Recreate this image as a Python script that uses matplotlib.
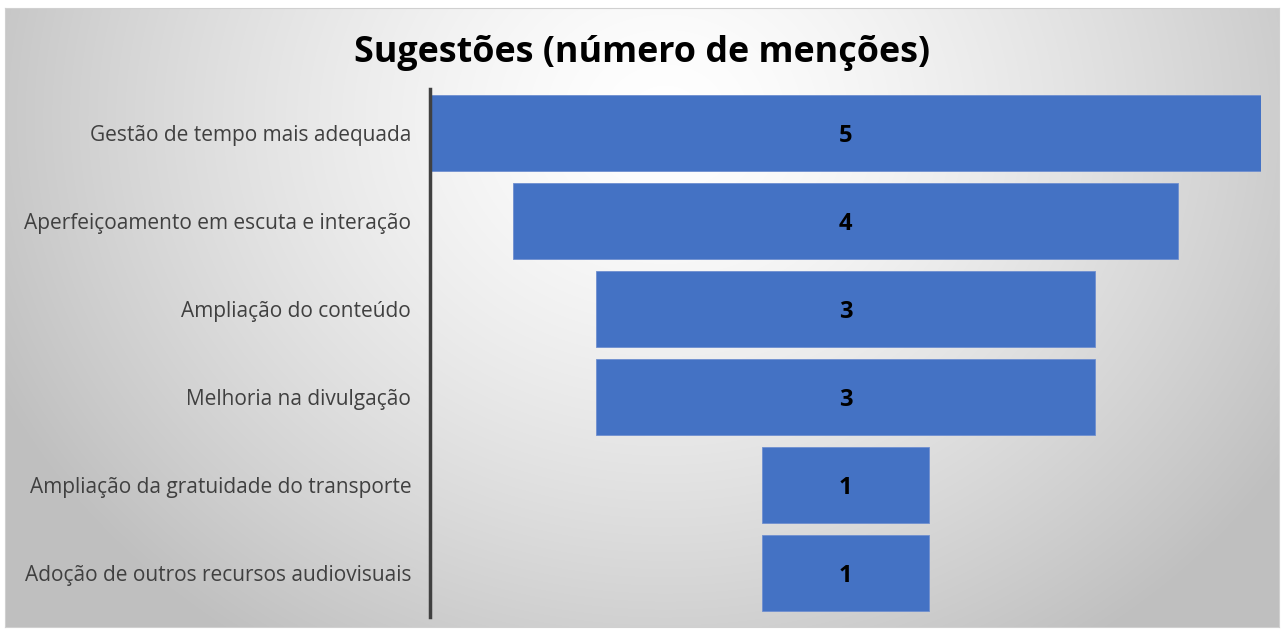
import numpy as np
import matplotlib.pyplot as plt

# Funnel data (top to bottom)
categories = [
    "Gestão de tempo mais adequada",
    "Aperfeiçoamento em escuta e interação",
    "Ampliação do conteúdo",
    "Melhoria na divulgação",
    "Ampliação da gratuidade do transporte",
    "Adoção de outros recursos audiovisuais",
]
mentions = [5, 4, 3, 3, 1, 1]
title = "Sugestões (número de menções)"

plt.rcParams['font.family'] = ['Open Sans', 'DejaVu Sans']

W, H = 1285, 630
fig = plt.figure(figsize=(W / 100, H / 100), dpi=100)
fig.patch.set_facecolor('white')

# gradient background panel
bg = fig.add_axes([5 / W, 1 - 627 / H, 1274 / W, 619 / H])
yy, xx = np.mgrid[0:619, 0:1274]
r = np.sqrt(((xx - 660) / 740.0) ** 2 + ((yy - 110) / 640.0) ** 2)
r = np.clip(r, 0, 1)
shade = 1.0 - 0.25 * r ** 1.4
bg.imshow(np.dstack([shade, shade, shade]), aspect='auto', interpolation='bilinear')
bg.set_xticks([])
bg.set_yticks([])
for s in bg.spines.values():
    s.set_edgecolor('#d0d0d0')
    s.set_linewidth(0.8)

# funnel axes
ax = fig.add_axes([430 / W, 1 - 617 / H, 831 / W, 528 / H])
ax.patch.set_alpha(0)
n = len(categories)
top = max(mentions)
ypos = np.arange(n)
lefts = [(top - v) / 2 for v in mentions]
ax.barh(ypos, mentions, left=lefts, height=0.865, color='#4472c4',
        edgecolor='#6f8fd0', linewidth=0.6)
for y, v in zip(ypos, mentions):
    ax.text(top / 2, y, str(v), ha='center', va='center_baseline', fontsize=17,
            fontweight='bold', color='black')
ax.set_xlim(0, top)
ax.set_ylim(n - 0.5, -0.5)
ax.set_yticks(ypos)
ax.set_yticklabels(categories, fontsize=15, color='#404040')
ax.tick_params(axis='y', length=0, pad=13.5)
ax.set_xticks([])
for k in ['top', 'right', 'bottom']:
    ax.spines[k].set_visible(False)
ax.spines['left'].set_color('#404040')
ax.spines['left'].set_linewidth(2.5)

fig.text(642 / W, 1 - 53 / H, title, ha='center', va='center', fontsize=25.8,
         fontweight='bold', color='black')

fig.savefig('out.png', dpi=100, facecolor='white')
